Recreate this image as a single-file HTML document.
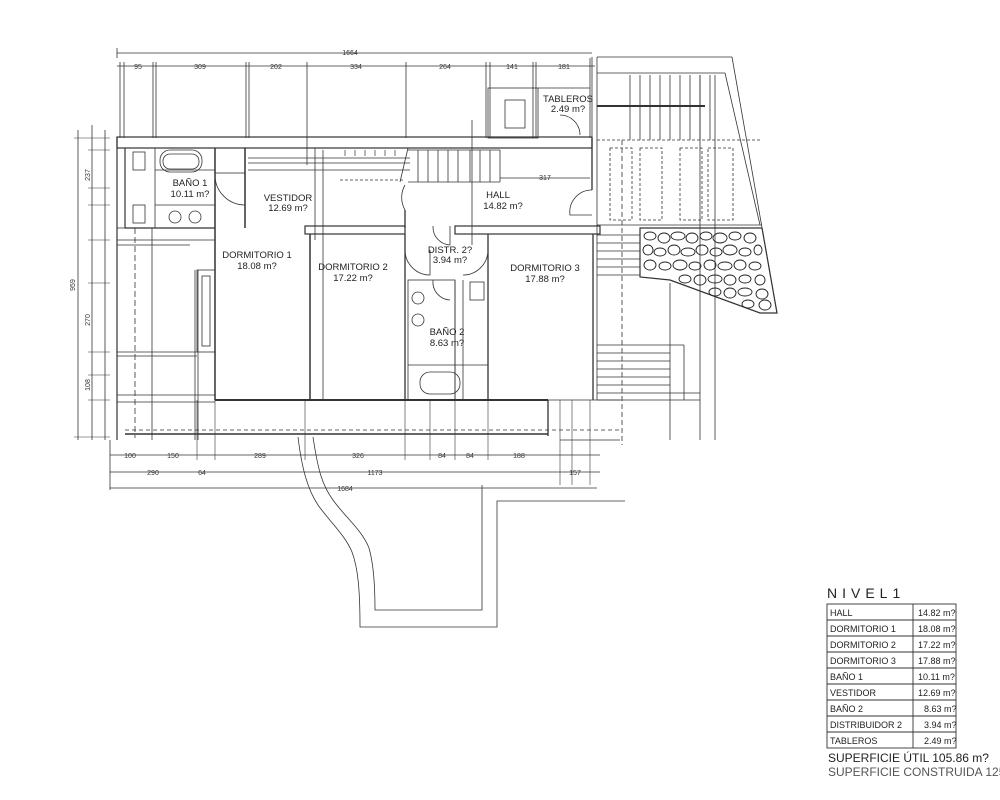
<!DOCTYPE html>
<html><head><meta charset="utf-8"><style>
html,body{margin:0;padding:0;background:#fff;}
svg{display:block;font-family:"Liberation Sans",sans-serif;}
.t{font-size:9.5px;fill:#222;}
.d{font-size:7px;fill:#333;}
</style></head><body>
<svg width="1000" height="800" viewBox="0 0 1000 800" xmlns="http://www.w3.org/2000/svg">
<g stroke="#333" stroke-width="0.8" fill="none">
<line x1="117" y1="53" x2="592" y2="53"/>
<line x1="117" y1="48" x2="117" y2="58"/>
<line x1="117" y1="66" x2="595" y2="66"/>
<g>
<line x1="120" y1="62" x2="120" y2="138"/><line x1="124" y1="62" x2="124" y2="138"/>
<line x1="153" y1="62" x2="153" y2="138"/><line x1="156" y1="62" x2="156" y2="138"/>
<line x1="246" y1="62" x2="246" y2="138"/><line x1="249" y1="62" x2="249" y2="138"/>
<line x1="307" y1="62" x2="307" y2="165"/>
<line x1="406" y1="62" x2="406" y2="138"/>
<line x1="486" y1="62" x2="486" y2="138"/><line x1="490" y1="62" x2="490" y2="138"/>
<line x1="533" y1="62" x2="533" y2="138"/><line x1="536" y1="62" x2="536" y2="138"/>
<line x1="590" y1="58" x2="590" y2="138"/>
</g>
<line x1="78" y1="130" x2="78" y2="440"/>
<line x1="92" y1="125" x2="92" y2="440"/>
<line x1="105" y1="130" x2="105" y2="440"/>
<g stroke-width="0.6">
<line x1="74" y1="138" x2="110" y2="138"/><line x1="88" y1="150" x2="110" y2="150"/>
<line x1="88" y1="188" x2="110" y2="188"/><line x1="88" y1="205" x2="110" y2="205"/>
<line x1="88" y1="240" x2="110" y2="240"/><line x1="88" y1="283" x2="110" y2="283"/>
<line x1="88" y1="352" x2="110" y2="352"/><line x1="88" y1="375" x2="110" y2="375"/>
<line x1="88" y1="400" x2="110" y2="400"/><line x1="74" y1="437" x2="110" y2="437"/>
</g>
<rect x="117" y="137" width="475" height="11" stroke-width="1.2"/>
<line x1="117" y1="137" x2="117" y2="440" stroke-width="1.2"/>
<line x1="125" y1="148" x2="125" y2="228" stroke-width="1.2"/>
<line x1="125" y1="228" x2="215" y2="228" stroke-width="1.2"/>
<line x1="117" y1="228" x2="125" y2="228"/>
<line x1="135" y1="228" x2="135" y2="438" stroke-dasharray="6,3"/>
<line x1="117" y1="240" x2="215" y2="240"/><line x1="117" y1="245" x2="190" y2="245"/>
<line x1="117" y1="352" x2="197" y2="352"/><line x1="117" y1="356" x2="197" y2="356"/>
<line x1="117" y1="395" x2="215" y2="395"/><line x1="117" y1="402" x2="215" y2="402"/>
<line x1="152" y1="228" x2="152" y2="440"/>
<line x1="195" y1="270" x2="195" y2="440"/><line x1="198" y1="270" x2="198" y2="440"/>
<rect x="197" y="270" width="18" height="82"/><rect x="202" y="276" width="8" height="70"/>
<line x1="215" y1="148" x2="215" y2="228" stroke-width="1.5"/>
<rect x="160" y="150" width="42" height="22" rx="10"/>
<rect x="163" y="154" width="36" height="15" rx="7"/>
<line x1="155" y1="148" x2="155" y2="228"/>
<line x1="155" y1="170" x2="215" y2="170"/>
<line x1="155" y1="205" x2="215" y2="205"/>
<rect x="133" y="152" width="12" height="18"/><rect x="133" y="205" width="12" height="18"/>
<circle cx="175" cy="217" r="6"/><circle cx="195" cy="217" r="6"/>
<rect x="215" y="148" width="30" height="25"/>
<path d="M215 175 A30 30 0 0 0 245 205" />
<line x1="245" y1="148" x2="245" y2="228" stroke-width="1.5"/>
<line x1="215" y1="228" x2="215" y2="400" stroke-width="1.5"/>
<line x1="248" y1="158" x2="410" y2="158"/><line x1="248" y1="163" x2="410" y2="163"/>
<line x1="248" y1="170" x2="410" y2="170"/>
<line x1="315" y1="148" x2="315" y2="240"/>
<line x1="340" y1="180" x2="405" y2="180" stroke-dasharray="3,2"/>
<g stroke-width="0.7">
<line x1="345" y1="150" x2="345" y2="156"/><line x1="355" y1="150" x2="355" y2="156"/><line x1="365" y1="150" x2="365" y2="156"/><line x1="375" y1="150" x2="375" y2="156"/><line x1="385" y1="150" x2="385" y2="156"/><line x1="395" y1="150" x2="395" y2="156"/>
</g>
<path d="M408 148 L400 182"/>
<line x1="408" y1="150" x2="500" y2="150"/><line x1="408" y1="182" x2="500" y2="182"/>
<g><line x1="418" y1="150" x2="418" y2="182"/><line x1="428" y1="150" x2="428" y2="182"/><line x1="438" y1="150" x2="438" y2="182"/><line x1="448" y1="150" x2="448" y2="182"/><line x1="458" y1="150" x2="458" y2="182"/><line x1="470" y1="150" x2="470" y2="182"/><line x1="480" y1="150" x2="480" y2="182"/><line x1="490" y1="150" x2="490" y2="182"/><line x1="500" y1="150" x2="500" y2="182"/></g>
<line x1="472" y1="120" x2="472" y2="245"/>
<line x1="500" y1="178" x2="590" y2="178"/>
<path d="M405 185 A25 25 0 0 0 405 210" /><line x1="405" y1="210" x2="405" y2="228" stroke-width="1.3"/>
<path d="M592 190 A22 22 0 0 0 570 215 L592 215"/>
<line x1="592" y1="138" x2="592" y2="190" stroke-width="1.3"/>
<rect x="305" y="226" width="100" height="8" stroke-width="1.2"/>
<rect x="455" y="226" width="145" height="8" stroke-width="1.2"/>
<line x1="310" y1="234" x2="310" y2="400" stroke-width="1.5"/>
<line x1="405" y1="234" x2="405" y2="400" stroke-width="1.3"/>
<line x1="488" y1="234" x2="488" y2="400" stroke-width="1.3"/>
<line x1="593" y1="234" x2="593" y2="400" stroke-width="1.3"/>
<line x1="323" y1="150" x2="323" y2="400"/>
<path d="M405 250 A25 25 0 0 0 430 275 L430 250"/>
<path d="M488 250 A25 25 0 0 1 463 275"/>
<path d="M433 226 A18 18 0 0 0 450 245 L450 226"/>
<rect x="408" y="280" width="47" height="120"/>
<line x1="455" y1="280" x2="455" y2="400"/>
<line x1="463" y1="280" x2="463" y2="400"/>
<line x1="408" y1="365" x2="488" y2="365"/>
<rect x="420" y="372" width="40" height="22" rx="10"/>
<circle cx="418" cy="298" r="6"/><circle cx="418" cy="320" r="6"/>
<path d="M433 280 A18 18 0 0 0 450 300"/>
<rect x="470" y="282" width="14" height="18"/>
<line x1="215" y1="400" x2="548" y2="400" stroke-width="2"/>
<line x1="125" y1="434" x2="548" y2="434" stroke-width="1.4"/>
<line x1="125" y1="430" x2="620" y2="430" stroke-dasharray="4,3"/>
<line x1="548" y1="400" x2="548" y2="436" stroke-width="1.3"/>
<line x1="548" y1="400" x2="620" y2="400"/>
<g stroke-width="0.6">
<line x1="305" y1="400" x2="305" y2="460"/><line x1="405" y1="400" x2="405" y2="460"/>
<line x1="430" y1="400" x2="430" y2="460"/><line x1="455" y1="400" x2="455" y2="460"/>
<line x1="488" y1="400" x2="488" y2="460"/><line x1="560" y1="400" x2="560" y2="485"/>
<line x1="572" y1="400" x2="572" y2="485"/><line x1="590" y1="400" x2="590" y2="485"/>
<line x1="215" y1="400" x2="215" y2="460"/><line x1="197" y1="400" x2="197" y2="460"/>
</g>
<line x1="110" y1="455" x2="600" y2="455"/>
<line x1="110" y1="472" x2="600" y2="472"/>
<line x1="110" y1="488" x2="597" y2="488"/>
<line x1="110" y1="440" x2="110" y2="490"/>
<!-- patio -->
<path d="M298 437 C302 470 308 490 318 505 C330 522 345 535 352 552 C358 568 360 590 360 627 L497 627 L497 501 L625 501"/>
<path d="M313 437 C318 470 322 485 333 500 C345 517 362 530 369 548 C374 565 375 590 375 610 L482 610 L482 485"/>
<line x1="597" y1="57" x2="732" y2="57"/>
<line x1="597" y1="73" x2="725" y2="73"/>
<line x1="732" y1="57" x2="777" y2="313"/>
<line x1="725" y1="73" x2="760" y2="225"/>
<line x1="597" y1="57" x2="597" y2="400"/>
<line x1="592" y1="57" x2="592" y2="138"/>
<line x1="597" y1="140" x2="760" y2="140" stroke-dasharray="3,2"/>
<g><line x1="630" y1="75" x2="630" y2="140"/><line x1="640" y1="75" x2="640" y2="140"/><line x1="650" y1="75" x2="650" y2="140"/><line x1="660" y1="75" x2="660" y2="140"/><line x1="670" y1="75" x2="670" y2="140"/><line x1="680" y1="75" x2="680" y2="140"/><line x1="690" y1="75" x2="690" y2="140"/><line x1="700" y1="75" x2="700" y2="140"/><line x1="710" y1="75" x2="710" y2="140"/></g>
<line x1="597" y1="106" x2="705" y2="106" stroke-width="2"/>
<rect x="610" y="148" width="22" height="72" stroke-dasharray="3,2"/>
<rect x="640" y="148" width="22" height="72" stroke-dasharray="3,2"/>
<rect x="680" y="148" width="22" height="72" stroke-dasharray="3,2"/>
<rect x="708" y="148" width="25" height="72" stroke-dasharray="3,2"/>
<line x1="597" y1="225" x2="762" y2="225"/>
<line x1="622" y1="140" x2="622" y2="445" stroke-dasharray="5,3"/>
<line x1="700" y1="75" x2="700" y2="440"/>
<line x1="715" y1="75" x2="715" y2="440"/>
<line x1="670" y1="283" x2="670" y2="440"/>
<g stroke-width="0.7"><line x1="597" y1="235" x2="640" y2="235"/><line x1="597" y1="243" x2="640" y2="243"/><line x1="597" y1="251" x2="640" y2="251"/><line x1="597" y1="259" x2="640" y2="259"/><line x1="597" y1="267" x2="640" y2="267"/><line x1="597" y1="275" x2="640" y2="275"/>
<line x1="597" y1="345" x2="684" y2="345"/><line x1="597" y1="353" x2="670" y2="353"/><line x1="597" y1="361" x2="670" y2="361"/><line x1="597" y1="369" x2="670" y2="369"/><line x1="597" y1="377" x2="670" y2="377"/><line x1="597" y1="385" x2="670" y2="385"/><line x1="597" y1="393" x2="700" y2="393"/><line x1="597" y1="400" x2="700" y2="400"/></g>
<line x1="684" y1="345" x2="684" y2="400"/>
<line x1="560" y1="440" x2="620" y2="440"/>
<path d="M640 228 L762 228 L777 313 L760 313 L670 280 L640 277 Z" stroke-width="1.2"/>
</g>
<g fill="none" stroke="#222" stroke-width="0.9">
<ellipse cx="650" cy="236" rx="6" ry="4"/><ellipse cx="664" cy="238" rx="6" ry="5"/><ellipse cx="678" cy="236" rx="7" ry="4"/><ellipse cx="692" cy="238" rx="6" ry="5"/><ellipse cx="706" cy="236" rx="6" ry="4"/><ellipse cx="720" cy="238" rx="7" ry="5"/><ellipse cx="735" cy="236" rx="6" ry="4"/><ellipse cx="750" cy="238" rx="6" ry="5"/>
<ellipse cx="648" cy="250" rx="5" ry="5"/><ellipse cx="660" cy="252" rx="6" ry="4"/><ellipse cx="674" cy="250" rx="6" ry="5"/><ellipse cx="688" cy="252" rx="7" ry="4"/><ellipse cx="702" cy="250" rx="6" ry="5"/><ellipse cx="716" cy="252" rx="6" ry="4"/><ellipse cx="730" cy="250" rx="7" ry="5"/><ellipse cx="745" cy="252" rx="6" ry="4"/><ellipse cx="758" cy="250" rx="4" ry="5"/>
<ellipse cx="650" cy="265" rx="6" ry="5"/><ellipse cx="665" cy="266" rx="6" ry="4"/><ellipse cx="680" cy="265" rx="7" ry="5"/><ellipse cx="695" cy="266" rx="6" ry="4"/><ellipse cx="710" cy="265" rx="6" ry="5"/><ellipse cx="725" cy="266" rx="7" ry="4"/><ellipse cx="740" cy="265" rx="6" ry="5"/><ellipse cx="755" cy="266" rx="6" ry="4"/>
<ellipse cx="685" cy="279" rx="6" ry="4"/><ellipse cx="700" cy="280" rx="6" ry="5"/><ellipse cx="715" cy="279" rx="7" ry="4"/><ellipse cx="730" cy="280" rx="6" ry="5"/><ellipse cx="745" cy="279" rx="6" ry="4"/><ellipse cx="760" cy="280" rx="5" ry="5"/>
<ellipse cx="715" cy="292" rx="6" ry="4"/><ellipse cx="730" cy="293" rx="6" ry="5"/><ellipse cx="745" cy="292" rx="7" ry="4"/><ellipse cx="762" cy="294" rx="6" ry="5"/>
<ellipse cx="748" cy="304" rx="6" ry="4"/><ellipse cx="765" cy="305" rx="6" ry="5"/>
</g>
<g stroke="#333" fill="none" stroke-width="0.8">
<rect x="488" y="88" width="50" height="50"/><rect x="505" y="100" width="20" height="28"/>
<path d="M560 115 A20 20 0 0 1 580 135"/><line x1="538" y1="88" x2="590" y2="88"/>
</g>
<g class="t" text-anchor="middle">
<text x="190" y="186">BAÑO 1</text><text x="190" y="197">10.11 m?</text>
<text x="288" y="201">VESTIDOR</text><text x="288" y="211">12.69 m?</text>
<text x="257" y="258">DORMITORIO 1</text><text x="257" y="269">18.08 m?</text>
<text x="353" y="270">DORMITORIO 2</text><text x="353" y="281">17.22 m?</text>
<text x="450" y="253">DISTR. 2?</text><text x="450" y="263">3.94 m?</text>
<text x="545" y="271">DORMITORIO 3</text><text x="545" y="282">17.88 m?</text>
<text x="498" y="198">HALL</text><text x="503" y="209">14.82 m?</text>
<text x="447" y="335">BAÑO 2</text><text x="447" y="346">8.63 m?</text>
<text x="568" y="102">TABLEROS</text><text x="568" y="112">2.49 m?</text>
</g>
<g class="d" text-anchor="middle">
<text x="350" y="55">1664</text>
<text x="138" y="69">95</text><text x="200" y="69">309</text><text x="276" y="69">202</text><text x="356" y="69">334</text><text x="445" y="69">264</text><text x="512" y="69">141</text><text x="564" y="69">181</text>
<text x="130" y="458">100</text><text x="173" y="458">150</text><text x="260" y="458">289</text><text x="358" y="458">326</text><text x="442" y="458">84</text><text x="470" y="458">84</text><text x="519" y="458">188</text>
<text x="153" y="475">290</text><text x="202" y="475">64</text><text x="375" y="475">1173</text><text x="575" y="475">157</text>
<text x="345" y="491">1684</text>
<text x="545" y="180">317</text>
</g>
<g class="d" text-anchor="middle">
<text transform="translate(75,285) rotate(-90)">959</text>
<text transform="translate(90,175) rotate(-90)">237</text>
<text transform="translate(90,320) rotate(-90)">270</text>
<text transform="translate(90,385) rotate(-90)">108</text>
</g>
<text x="827" y="598" style="font-size:14px;letter-spacing:5px" fill="#222">NIVEL1</text>
<g stroke="#333" fill="none" stroke-width="0.9">
<rect x="827" y="604" width="129" height="144"/>
<line x1="913" y1="604" x2="913" y2="748"/>
<line x1="827" y1="620" x2="956" y2="620"/><line x1="827" y1="636" x2="956" y2="636"/><line x1="827" y1="652" x2="956" y2="652"/><line x1="827" y1="668" x2="956" y2="668"/><line x1="827" y1="684" x2="956" y2="684"/><line x1="827" y1="700" x2="956" y2="700"/><line x1="827" y1="716" x2="956" y2="716"/><line x1="827" y1="732" x2="956" y2="732"/>
</g>
<g style="font-size:9px" fill="#222">
<text x="830" y="616">HALL</text><text x="830" y="632">DORMITORIO 1</text><text x="830" y="648">DORMITORIO 2</text><text x="830" y="664">DORMITORIO 3</text><text x="830" y="680">BAÑO 1</text><text x="830" y="696">VESTIDOR</text><text x="830" y="712">BAÑO 2</text><text x="830" y="728">DISTRIBUIDOR 2</text><text x="830" y="744">TABLEROS</text>
<text x="918" y="616">14.82 m?</text><text x="918" y="632">18.08 m?</text><text x="918" y="648">17.22 m?</text><text x="918" y="664">17.88 m?</text><text x="918" y="680">10.11 m?</text><text x="918" y="696">12.69 m?</text><text x="924" y="712">8.63 m?</text><text x="924" y="728">3.94 m?</text><text x="924" y="744">2.49 m?</text>
</g>
<text x="828" y="762" style="font-size:12px" fill="#222">SUPERFICIE ÚTIL 105.86 m?</text>
<text x="828" y="776" style="font-size:12px" fill="#555">SUPERFICIE CONSTRUIDA 125</text>
</svg>
</body></html>
